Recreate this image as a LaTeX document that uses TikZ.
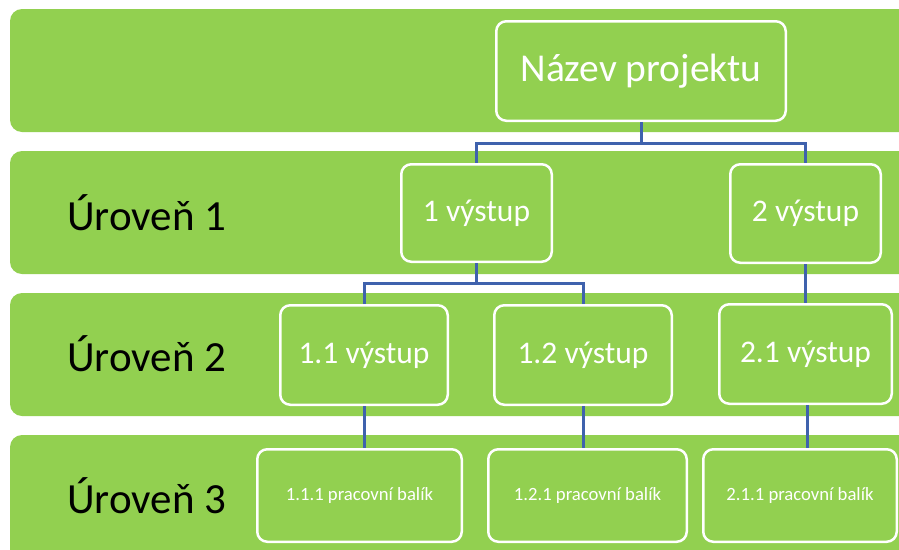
\documentclass[tikz,border=0pt]{standalone}
\usepackage{fontspec}
\setmainfont{Carlito}
\definecolor{bandgreen}{HTML}{92D050}
\definecolor{linkblue}{HTML}{3F62AD}
\begin{document}
\begin{tikzpicture}[x=1pt,y=-1pt,
  band/.style={fill=bandgreen,rounded corners=12pt},
  box/.style={draw=white,fill=bandgreen,line width=2.5pt,rounded corners=10pt,
    inner sep=0pt,text=white,align=center},
  rootbox/.style={box,font=\fontsize{39.5}{42}\selectfont},
  outbox/.style={box,font=\fontsize{31.5}{34}\selectfont},
  pkgbox/.style={box,font=\fontsize{18.7}{21}\selectfont},
  levellabel/.style={anchor=west,inner sep=0pt,text=black,font=\fontsize{43}{46}\selectfont},
  conn/.style={draw=linkblue,line width=3pt}]
\clip (0,0) rectangle (899,549);
\fill[white] (0,0) rectangle (899,549);

% level bands
\fill[band] (10,9) rectangle (930,132);
\fill[band] (10,151) rectangle (930,274);
\fill[band] (10,293) rectangle (930,416);
\fill[band] (10,435) rectangle (930,580);

% level labels
\node[levellabel] (l1) at (67,212.5) {Úroveň 1};
\node[levellabel] (l2) at (67,354) {Úroveň 2};
\node[levellabel] (l3) at (67,496) {Úroveň 3};

% project
\node[rootbox,minimum width=289.5pt,minimum height=99.5pt] (root) at (641,71) {Název projektu};

% level 1
\node[outbox,minimum width=150.5pt,minimum height=97.5pt] (o1) at (476.5,213) {1 výstup};
\node[outbox,minimum width=150.5pt,minimum height=98.5pt] (o2) at (805.5,213.5) {2 výstup};

% level 2
\node[outbox,minimum width=167.5pt,minimum height=99.5pt] (o11) at (364,355) {1.1 výstup};
\node[outbox,minimum width=177.5pt,minimum height=99.5pt] (o12) at (583,355) {1.2 výstup};
\node[outbox,minimum width=172.5pt,minimum height=99.5pt] (o21) at (805.5,354) {2.1 výstup};

% level 3
\node[pkgbox,minimum width=204.5pt,minimum height=92.5pt] (p111) at (359.5,495.5) {1.1.1 pracovní balík};
\node[pkgbox,minimum width=198.5pt,minimum height=92.5pt] (p121) at (587.5,495.5) {1.2.1 pracovní balík};
\node[pkgbox,minimum width=193.5pt,minimum height=92.5pt] (p211) at (800,495.5) {2.1.1 pracovní balík};

% connectors
\coordinate (bus0) at (641,143);
\coordinate (bus1) at (476.5,283);
\draw[conn] (root.south) -- (bus0) -| (o1.north);
\draw[conn] (bus0) -| (o2.north);
\draw[conn] (o1.south) -- (bus1) -| (o11.north);
\draw[conn] (bus1) -| (o12.north);
\draw[conn] (o2.south) -- (o21.north);
\draw[conn] (o11.south) -- (o11.south |- p111.north);
\draw[conn] (o12.south) -- (o12.south |- p121.north);
\draw[conn] ([xshift=1.5pt]o21.south) -- ([xshift=1.5pt]o21.south |- p211.north);
\end{tikzpicture}
\end{document}
